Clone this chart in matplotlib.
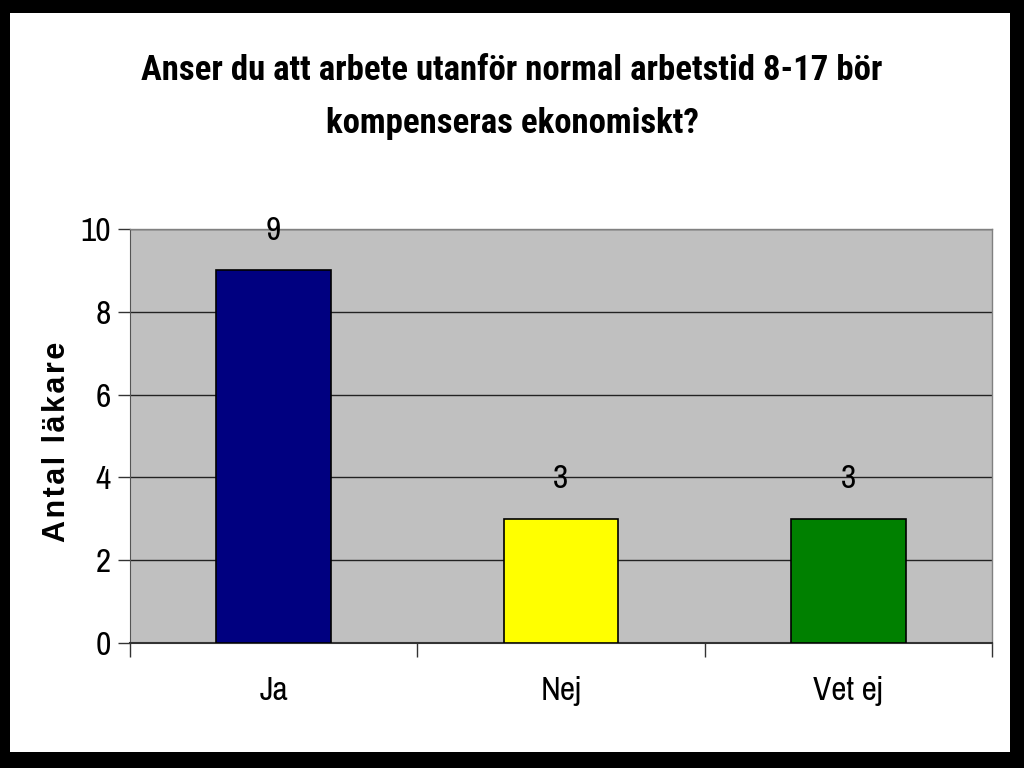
import matplotlib
matplotlib.use("Agg")
import matplotlib.pyplot as plt
from matplotlib.patches import Rectangle

categories = ["Ja", "Nej", "Vet ej"]
values = [9, 3, 3]
colors = ["#000080", "#FFFF00", "#008000"]
yticks = [0, 2, 4, 6, 8, 10]
title = "Anser du att arbete utanför normal arbetstid 8-17 bör\nkompenseras ekonomiskt?"
ylabel = "\u200a".join("Antal läkare")

fam = ["Archivo Narrow", "Roboto Condensed", "Liberation Sans", "DejaVu Sans"]
plt.rcParams["font.family"] = fam

fig = plt.figure(figsize=(10.24, 7.68), dpi=100)
fig.patch.set_facecolor("black")
fig.patches.append(Rectangle((10/1024, 16/768), 1000/1024, 739/768,
                             transform=fig.transFigure, facecolor="white",
                             edgecolor="none", zorder=-5))

ax = fig.add_axes([130/1024, 125/768, 862/1024, 414/768])
ax.set_facecolor("#C0C0C0")
x = list(range(len(categories)))
bars = ax.bar(x, values, width=0.4, color=colors, edgecolor="black", linewidth=1.2, zorder=3)
for xi, v in zip(x, values):
    ax.text(xi, v + 0.95, str(v), ha="center", va="center", fontsize=24, zorder=4)

ax.set_xlim(-0.5, len(categories) - 0.5)
ax.set_ylim(0, 10)
ax.set_yticks(yticks)
ax.set_yticklabels([str(t) for t in yticks], fontsize=24)
ax.yaxis.grid(True, color="#222222", linewidth=1.0, zorder=1)
ax.set_axisbelow(True)

ax.set_xticks([i - 0.5 for i in range(len(categories) + 1)], minor=False)
ax.set_xticklabels([])
ax.set_xticks(x, minor=True)
ax.set_xticklabels(categories, minor=True, fontsize=24)
ax.tick_params(axis="x", which="major", length=10, width=1, color="#333333", direction="out")
ax.tick_params(axis="x", which="minor", length=0, pad=24)
ax.tick_params(axis="y", length=9, width=1, color="#333333", pad=5)

for s in ["top", "right"]:
    ax.spines[s].set_color("#808080")
    ax.spines[s].set_linewidth(1)
ax.spines["left"].set_color("#555555")
ax.spines["bottom"].set_color("#333333")
ax.spines["bottom"].set_linewidth(1.5)

ax.set_ylabel(ylabel, fontsize=22, fontweight="bold", labelpad=1,
              family=["Liberation Sans", "DejaVu Sans"])
ax.yaxis.set_label_coords(-0.067, 0.487)

fig.text(0.5, 0.874, title, ha="center", va="center", fontsize=25, fontweight="bold",
         linespacing=1.78, family=["Roboto Condensed", "Liberation Sans", "DejaVu Sans"])

fig.savefig("out.png", dpi=100, facecolor=fig.get_facecolor())
